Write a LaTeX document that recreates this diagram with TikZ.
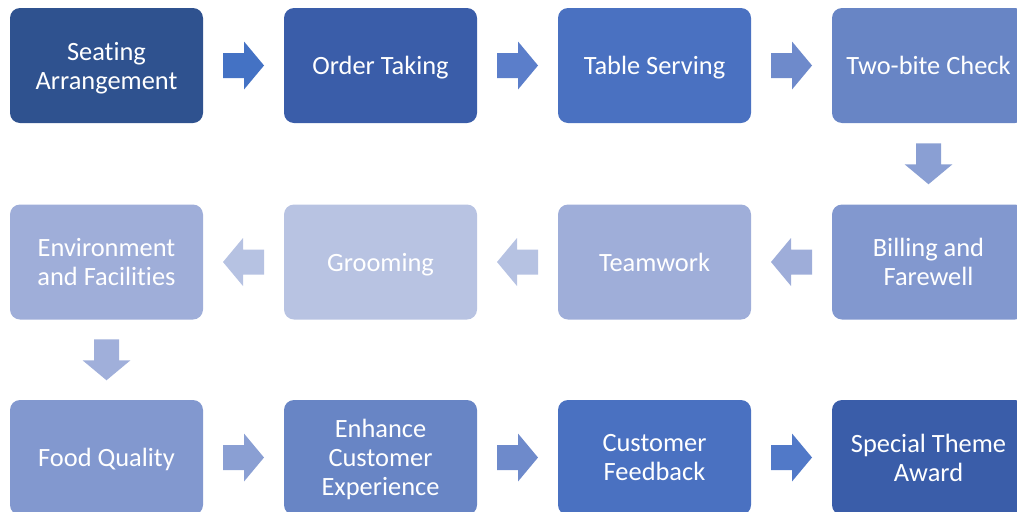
\documentclass[tikz,border=0pt]{standalone}
\usepackage{fontspec}
\setmainfont{Carlito}[Ligatures=NoCommon]
\usetikzlibrary{calc}

% Process step fills
\definecolor{cA}{HTML}{2F528F}
\definecolor{cB}{HTML}{3A5DA9}
\definecolor{cC}{HTML}{4A71C1}
\definecolor{cD}{HTML}{6885C5}
\definecolor{cE}{HTML}{8298CF}
\definecolor{cF}{HTML}{9FAED9}
\definecolor{cG}{HTML}{B8C3E2}
% Block arrow fills
\definecolor{aA}{HTML}{4472C4}
\definecolor{aB}{HTML}{5B7ECA}
\definecolor{aC}{HTML}{6E8ACB}
\definecolor{aD}{HTML}{8A9FD3}
\definecolor{aE}{HTML}{9EADD9}
\definecolor{aF}{HTML}{B6C2E2}
\definecolor{aG}{HTML}{A0AFDA}
\definecolor{aH}{HTML}{5179C8}

\tikzset{
  stepbox/.style={rounded corners=7.5pt, inner sep=0pt,
    minimum width=144.75pt, minimum height=86.25pt, text depth=0pt,
    text=white, align=center, font=\fontsize{19.8}{21.75}\selectfont},
}

% block arrow centred on a coordinate: #1 centre, #2 direction angle, #3 fill
\newcommand\blockarrow[3]{%
  \fill[#3, shift={(#1)}, rotate=#2]
    (-20.5pt*0.75,-12.5pt*0.75) -- (0.5pt*0.75,-12.5pt*0.75) -- (0.5pt*0.75,-24pt*0.75)
    -- (20.5pt*0.75,0pt) -- (0.5pt*0.75,24pt*0.75) -- (0.5pt*0.75,12.5pt*0.75)
    -- (-20.5pt*0.75,12.5pt*0.75) -- cycle;}

\begin{document}
\begin{tikzpicture}[x=0.75pt, y=-0.75pt]
\useasboundingbox (0,0) rectangle (1017,511);
\clip (0,0) rectangle (1017,511);

% first row, left to right
\node[stepbox, fill=cA] (n1) at (106.5,65.5) {Seating\\Arrangement};
\node[stepbox, fill=cB] (n2) at (380.5,65.5) {Order Taking};
\node[stepbox, fill=cC] (n3) at (654.5,65.5) {Table Serving};
\node[stepbox, fill=cD] (n4) at (928.5,65.5) {Two-bite Check};
% second row, right to left
\node[stepbox, fill=cE] (n5) at (928.5,262) {Billing and\\Farewell};
\node[stepbox, fill=cF] (n6) at (654.5,262) {Teamwork};
\node[stepbox, fill=cG] (n7) at (380.5,262) {Grooming};
\node[stepbox, fill=cF] (n8) at (106.5,262) {Environment\\and Facilities};
% third row, left to right
\node[stepbox, fill=cE] (n9) at (106.5,457.5) {Food Quality};
\node[stepbox, fill=cD] (n10) at (380.5,457.5) {Enhance\\Customer\\Experience};
\node[stepbox, fill=cC] (n11) at (654.5,457.5) {Customer\\Feedback};
\node[stepbox, fill=cB] (n12) at (928.5,457.5) {Special Theme\\Award};

% arrow positions between consecutive steps
\coordinate (m1) at ($(n1.east)!0.5!(n2.west)$);
\coordinate (m2) at ($(n2.east)!0.5!(n3.west)$);
\coordinate (m3) at ($(n3.east)!0.5!(n4.west)$);
\coordinate (m4) at ($(n4.south)!0.5!(n5.north)$);
\coordinate (m5) at ($(n5.west)!0.5!(n6.east)$);
\coordinate (m6) at ($(n6.west)!0.5!(n7.east)$);
\coordinate (m7) at ($(n7.west)!0.5!(n8.east)$);
\coordinate (m8) at ($(n8.south)!0.5!(n9.north)$);
\coordinate (m9) at ($(n9.east)!0.5!(n10.west)$);
\coordinate (m10) at ($(n10.east)!0.5!(n11.west)$);
\coordinate (m11) at ($(n11.east)!0.5!(n12.west)$);

\blockarrow{m1}{0}{aA}
\blockarrow{m2}{0}{aB}
\blockarrow{m3}{0}{aC}
\blockarrow{m4}{-90}{aD}
\blockarrow{m5}{180}{aE}
\blockarrow{m6}{180}{aF}
\blockarrow{m7}{180}{aF}
\blockarrow{m8}{-90}{aG}
\blockarrow{m9}{0}{aD}
\blockarrow{m10}{0}{aC}
\blockarrow{m11}{0}{aH}
\end{tikzpicture}
\end{document}
